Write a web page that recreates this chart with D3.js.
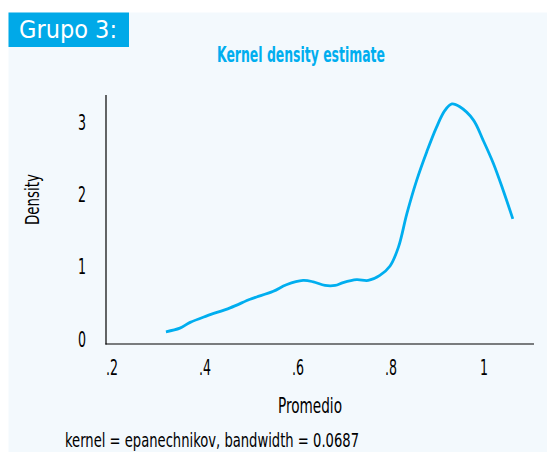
<!DOCTYPE html>
<html>
<head>
<meta charset="utf-8">
<script src="https://cdn.jsdelivr.net/npm/d3@7"></script>
<style>
  body { margin: 0; background: #ffffff; }
  text { font-family: "DejaVu Sans", sans-serif; font-stretch: condensed; }
</style>
</head>
<body>
<div id="chart"></div>
<script>
// Density curve
const promedio = [0.316, 0.346, 0.368, 0.404, 0.454, 0.497, 0.511, 0.547, 0.575, 0.611, 0.633, 0.658, 0.680, 0.697, 0.726, 0.751, 0.776, 0.798, 0.816, 0.834, 0.855, 0.877, 0.898, 0.916, 0.931, 0.948, 0.977, 0.998, 1.020, 1.041, 1.062];
const density = [0.10, 0.15, 0.23, 0.32, 0.43, 0.55, 0.58, 0.66, 0.75, 0.81, 0.79, 0.74, 0.74, 0.78, 0.82, 0.81, 0.88, 1.01, 1.27, 1.73, 2.19, 2.59, 2.93, 3.16, 3.25, 3.21, 3.03, 2.75, 2.43, 2.06, 1.66];
const xTicks = [0.2, 0.4, 0.6, 0.8, 1];
const xTickLabels = [".2", ".4", ".6", ".8", "1"];
const yTicks = [0, 1, 2, 3];

const width = 547;
const height = 457;
const blue = "#00aeef";

const svg = d3.select("#chart")
    .append("svg")
        .attr("width", width)
        .attr("height", height);

// light panel and the group label
svg.append("rect")
    .attr("x", 8.5).attr("y", 12.5)
    .attr("width", width - 8.5).attr("height", 439.5)
    .attr("fill", "#f3f9fd");
svg.append("rect")
    .attr("x", 8.5).attr("y", 12.5)
    .attr("width", 120.5).attr("height", 34.5)
    .attr("fill", "#00a9e8");
svg.append("text")
    .attr("x", 19).attr("y", 38)
    .attr("fill", "white")
    .attr("textLength", 98)
    .attr("lengthAdjust", "spacingAndGlyphs")
    .style("font-size", "25px")
    .text("Grupo 3:");

// scales
const x = d3.scaleLinear().domain([0.2, 1]).range([112, 484]);
const y = d3.scaleLinear().domain([0, 3]).range([339, 122]);

// axis lines
svg.append("line")
    .attr("x1", 106).attr("x2", 106)
    .attr("y1", 95).attr("y2", 344.5)
    .attr("stroke", "black").attr("stroke-width", 1.2);
svg.append("line")
    .attr("x1", 105.4).attr("x2", 534)
    .attr("y1", 344).attr("y2", 344)
    .attr("stroke", "black").attr("stroke-width", 1.2);

// tick labels, squeezed to look like the narrow original font
svg.selectAll(".xlab")
    .data(xTicks)
    .enter()
    .append("text")
        .attr("class", "xlab")
        .attr("transform", d => `translate(${x(d)},375) scale(0.6,1)`)
        .attr("text-anchor", "middle")
        .style("font-size", "21px")
        .style("font-stretch", "normal")
        .text((d, i) => xTickLabels[i]);
svg.selectAll(".ylab")
    .data(yTicks)
    .enter()
    .append("text")
        .attr("class", "ylab")
        .attr("transform", d => `translate(82,${y(d) + 7.6}) scale(0.6,1)`)
        .attr("text-anchor", "middle")
        .style("font-size", "21px")
        .style("font-stretch", "normal")
        .text(d => d);

// axis titles
svg.append("text")
    .attr("transform", "translate(39,199.5) rotate(-90)")
    .attr("text-anchor", "middle")
    .attr("textLength", 51)
    .attr("lengthAdjust", "spacingAndGlyphs")
    .style("font-size", "19px")
    .text("Density");
svg.append("text")
    .attr("x", 310).attr("y", 413)
    .attr("text-anchor", "middle")
    .attr("textLength", 64)
    .attr("lengthAdjust", "spacingAndGlyphs")
    .style("font-size", "22px")
    .text("Promedio");
svg.append("text")
    .attr("x", 301).attr("y", 62)
    .attr("text-anchor", "middle")
    .attr("fill", blue)
    .attr("textLength", 168)
    .attr("lengthAdjust", "spacingAndGlyphs")
    .style("font-size", "21px")
    .style("font-weight", "bold")
    .text("Kernel density estimate");
svg.append("text")
    .attr("x", 65).attr("y", 447)
    .attr("textLength", 294)
    .attr("lengthAdjust", "spacingAndGlyphs")
    .style("font-size", "19px")
    .text("kernel = epanechnikov, bandwidth = 0.0687");

// density line
const line = d3.line()
    .x((d, i) => x(promedio[i]))
    .y(d => y(d))
    .curve(d3.curveCatmullRom);
svg.append("path")
    .datum(density)
    .attr("d", line)
    .attr("fill", "none")
    .attr("stroke", blue)
    .attr("stroke-width", 2.8);
</script>
</body>
</html>
